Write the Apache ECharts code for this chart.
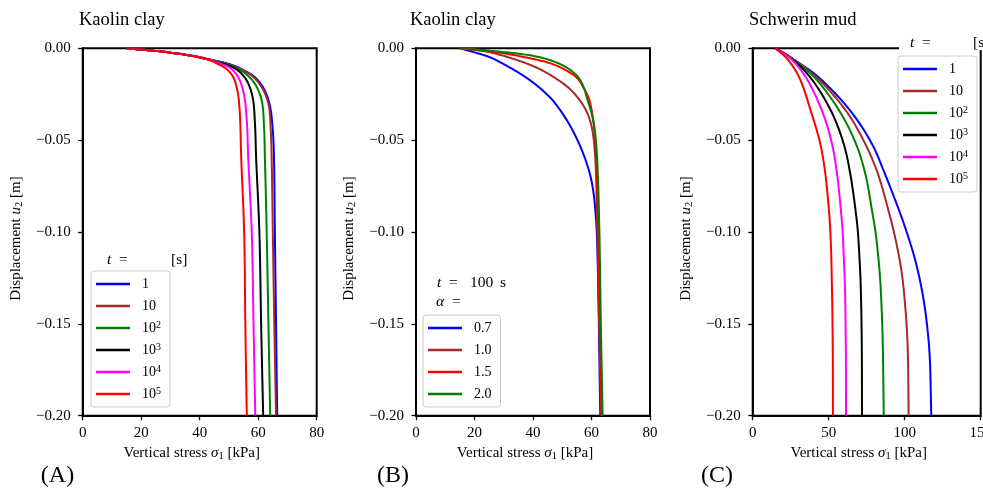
<!DOCTYPE html>
<html>
<head>
<meta charset="utf-8">
<script src="https://cdn.jsdelivr.net/npm/echarts@6/dist/echarts.min.js"></script>
<style>
html,body{margin:0;padding:0;background:#fff;overflow:hidden;}
#chart{width:983px;height:492px;}
</style>
</head>
<body>
<div id="chart"></div>
<script>
// ---------- DATA (pairs: [vertical stress kPa, displacement m]) ----------
// Panel A: Kaolin clay, different times t
const A_t1 = [[15,0],[24.1,-0.0013],[35.6,-0.0036],[42.4,-0.0058],[47.5,-0.0075],[51.5,-0.0093],[54.9,-0.0118],[58.9,-0.0158],[62.0,-0.0222],[64.0,-0.0312],[65.0,-0.0449],[65.4,-0.06],[65.7,-0.1],[66.1,-0.15],[66.5,-0.2]];
const A_t10 = [[15,0],[24.1,-0.0013],[35.6,-0.0036],[42.4,-0.0058],[47.3,-0.0076],[50.8,-0.0093],[53.2,-0.0107],[57.8,-0.0149],[61.2,-0.0212],[63.5,-0.0303],[64.3,-0.0449],[64.6,-0.06],[65.0,-0.1],[65.5,-0.15],[66.1,-0.2]];
const A_t1e2 = [[15,0],[24.1,-0.0013],[35.6,-0.0036],[42.4,-0.0058],[47.0,-0.0077],[51.5,-0.0100],[55.5,-0.0136],[58.9,-0.0194],[61.2,-0.0285],[62.0,-0.0430],[62.3,-0.06],[62.9,-0.1],[63.5,-0.15],[64.1,-0.2]];
const A_t1e3 = [[15,0],[24.1,-0.0013],[35.6,-0.0036],[42.4,-0.0058],[46.5,-0.0078],[49.2,-0.0089],[53.2,-0.0122],[56.1,-0.0176],[58.1,-0.0267],[58.9,-0.0412],[59.3,-0.06],[60.4,-0.1],[61.0,-0.15],[61.7,-0.2]];
const A_t1e4 = [[15,0],[24.1,-0.0013],[35.6,-0.0036],[42.4,-0.0058],[46.9,-0.0082],[50.4,-0.0107],[53.2,-0.0158],[55.1,-0.0249],[56.1,-0.0394],[56.6,-0.06],[57.8,-0.1],[58.4,-0.15],[59.0,-0.2]];
const A_t1e5 = [[15,0],[24.1,-0.0013],[35.6,-0.0036],[42.4,-0.0058],[45.8,-0.0082],[49.2,-0.0113],[51.5,-0.0158],[52.9,-0.0231],[53.7,-0.035],[54.2,-0.06],[55.2,-0.1],[55.6,-0.15],[56.1,-0.2]];

// Panel B: Kaolin clay, t = 100 s, different alpha
const B_a07 = [[15,0],[20,-0.0022],[25.3,-0.0049],[31,-0.0095],[36.7,-0.0149],[41.5,-0.0205],[45.8,-0.0267],[47.6,-0.03],[51.9,-0.04],[55.2,-0.05],[57.8,-0.06],[59.7,-0.07],[60.8,-0.08],[61.4,-0.09],[61.8,-0.1],[62.3,-0.13],[62.6,-0.16],[63.0,-0.2]];
const B_a10 = [[15,0],[25.3,-0.0022],[36.7,-0.0076],[42.5,-0.0115],[48.1,-0.0167],[52.5,-0.022],[56.1,-0.0285],[58.5,-0.035],[60.1,-0.043],[61.2,-0.0575],[62.0,-0.1],[62.6,-0.15],[63.3,-0.2]];
const B_a15 = [[15,0],[25.3,-0.0016],[40.1,-0.0058],[46.5,-0.0085],[51.5,-0.0122],[55.0,-0.016],[57.2,-0.0212],[59.0,-0.027],[60.1,-0.034],[61.2,-0.0484],[61.8,-0.07],[62.3,-0.1],[62.9,-0.15],[63.6,-0.2]];
const B_a20 = [[15,0],[25.3,-0.0013],[42.4,-0.0049],[50.4,-0.0095],[55.0,-0.0149],[57.0,-0.02],[58.4,-0.0267],[60.6,-0.0394],[61.6,-0.0521],[62.2,-0.07],[62.7,-0.1],[63.2,-0.15],[63.8,-0.2]];

// Panel C: Schwerin mud, different times t
const C_u = [0,-0.0031,-0.0068,-0.0158,-0.034,-0.0521,-0.0684,-0.0898,-0.1,-0.1134,-0.125,-0.1372,-0.15,-0.167,-0.2];
const C_t1   = [14.9,21.4,28.3,43.4,64.2,78.5,87.0,97.0,101.3,106.3,109.7,112.5,114.6,116.4,117.5];
const C_t10  = [14.9,21.4,27.9,42.0,61.4,74.1,82.4,89.8,92.9,96.3,98.5,100.0,101.2,102.1,102.6];
const C_t1e2 = [14.9,21.4,27.6,40.6,57.0,68.0,74.1,78.8,80.8,82.6,83.8,84.6,85.2,85.7,86.2];
const C_t1e3 = [14.9,21.4,27.2,37.9,51.5,59.9,64.2,67.9,69.2,70.2,70.9,71.3,71.6,71.8,71.9];
const C_t1e4 = [14.9,21.0,26.5,35.0,45.6,52.2,55.5,58.2,59.2,59.9,60.5,60.9,61.1,61.3,61.4];
const C_t1e5 = [14.9,19.5,23.8,30.6,38.2,44.5,47.8,50.3,51.1,51.7,52.0,52.3,52.5,52.7,52.8];

const tNames = ['1','10','10^2','10^3','10^4','10^5'];
const alphaNames = ['0.7','1.0','1.5','2.0'];
const titles = ['Kaolin clay','Kaolin clay','Schwerin mud'];
const panelLabels = ['(A)','(B)','(C)'];
const xMax = [80,80,150];
const xInterval = [20,20,50];
const yTicks = {min:-0.2, max:0, interval:0.05};

// ---------- STYLE ----------
const FONT = 'Liberation Serif';
const tColors = ['#0000ff','#a52a2a','#008000','#000000','#ff00ff','#ff0000'];
const aColors = ['#0000ff','#a52a2a','#ff0000','#008000'];
const grids = [
  {left:82.7, top:48.3, width:234, height:367.4},
  {left:416, top:48.3, width:234, height:367.4},
  {left:752.7, top:48.3, width:228, height:367.4}
];

const C_curves = [C_t1,C_t10,C_t1e2,C_t1e3,C_t1e4,C_t1e5].map(xs => xs.map((x,i)=>[x,C_u[i]]));
const A_curves = [A_t1,A_t10,A_t1e2,A_t1e3,A_t1e4,A_t1e5];
const B_curves = [B_a07,B_a10,B_a15,B_a20];

const subRich = {
  i:{fontStyle:'italic', fontFamily:FONT, fontSize:15, lineHeight:18},
  r:{fontFamily:FONT, fontSize:15, lineHeight:18},
  sub:{fontFamily:FONT, fontSize:10.5, verticalAlign:'bottom', lineHeight:12}
};

function yFmt(v){ if(Math.abs(v)<1e-9) return '0.00'; return (v<0?'\u2212':'')+Math.abs(v).toFixed(2); }

const xAxes = [], yAxes = [];
for(let k=0;k<3;k++){
  xAxes.push({
    gridIndex:k, type:'value', min:0, max:xMax[k], interval:xInterval[k],
    name:'{r|Vertical stress }{i|\u03c3}{sub|1}{r| [kPa]}', nameLocation:'middle', nameGap:28,
    nameTextStyle:{fontFamily:FONT, fontSize:15, color:'#000', padding:[0,16,0,0], rich:subRich},
    axisLine:{show:true, onZero:false, lineStyle:{color:'#000', width:2}},
    axisTick:{show:true, length:4.5, lineStyle:{color:'#000', width:1.3}},
    axisLabel:{fontFamily:FONT, fontSize:15, color:'#000', margin:10, hideOverlap:false, showMaxLabel:true},
    splitLine:{show:false}
  });
  yAxes.push({
    gridIndex:k, type:'value', min:yTicks.min, max:yTicks.max, interval:yTicks.interval,
    name:'{r|Displacement }{i|u}{sub|2}{r| [m]}', nameLocation:'middle', nameGap:58, nameRotate:90,
    nameTextStyle:{fontFamily:FONT, fontSize:15, color:'#000', padding:[0,13,0,0], rich:subRich},
    axisLine:{show:true, onZero:false, lineStyle:{color:'#000', width:2}},
    axisTick:{show:true, length:4.5, lineStyle:{color:'#000', width:1.3}},
    axisLabel:{fontFamily:FONT, fontSize:15, color:'#000', margin:12, formatter:yFmt},
    splitLine:{show:false}
  });
}

// Smooth rendering of a curve through its data points (centripetal Catmull-Rom in pixel space)
function splinePixels(P){
  const out = [P[0].slice()];
  const n = P.length;
  const dist = (a,b)=>Math.sqrt(Math.hypot(b[0]-a[0], b[1]-a[1]));
  for(let i=0;i<n-1;i++){
    const p0 = P[i-1], p1 = P[i], p2 = P[i+1], p3 = P[i+2];
    const d2 = dist(p1,p2);
    let c1, c2;
    if(!p0){ c1 = [p1[0]+(p2[0]-p1[0])/3, p1[1]+(p2[1]-p1[1])/3]; }
    else {
      const d1 = dist(p0,p1);
      const den = 3*d1*(d1+d2);
      c1 = [0,1].map(k => (d1*d1*p2[k] - d2*d2*p0[k] + (2*d1*d1+3*d1*d2+d2*d2)*p1[k]) / den);
    }
    if(!p3){ c2 = [p2[0]-(p2[0]-p1[0])/3, p2[1]-(p2[1]-p1[1])/3]; }
    else {
      const d3 = dist(p2,p3);
      const den = 3*d3*(d3+d2);
      c2 = [0,1].map(k => (d3*d3*p1[k] - d2*d2*p3[k] + (2*d3*d3+3*d3*d2+d2*d2)*p2[k]) / den);
    }
    const steps = 16;
    for(let s=1;s<=steps;s++){
      const t = s/steps, u = 1-t;
      out.push([0,1].map(k => u*u*u*p1[k] + 3*u*u*t*c1[k] + 3*u*t*t*c2[k] + t*t*t*p2[k]));
    }
  }
  return out;
}

const series = [];
function addSeries(prefix, names, curves, colors, idx){
  names.forEach((n,i)=>{
    const pts = curves[i];
    series.push({
      name:prefix+n, type:'custom', xAxisIndex:idx, yAxisIndex:idx, coordinateSystem:'cartesian2d',
      data:pts, itemStyle:{color:colors[i]}, silent:true, clip:true, animation:false,
      encode:{x:0, y:1},
      renderItem:function(params, api){
        if(params.dataIndex !== 0) return null;
        const P = pts.map(p => api.coord(p));
        return {type:'polyline', shape:{points:splinePixels(P)},
          style:{stroke:colors[i], lineWidth:2, fill:null, lineJoin:'round', lineCap:'butt'}};
      }
    });
  });
}
addSeries('A:', tNames, A_curves, tColors, 0);
addSeries('B:', alphaNames, B_curves, aColors, 1);
addSeries('C:', tNames, C_curves, tColors, 2);

function legendFmt(name){
  const s = name.slice(2);
  return s.replace(/\^(\d+)/, '{sup|$1}');
}
function makeLegend(prefix, names, left, top){
  return {
    data:names.map(n=>prefix+n), orient:'vertical', left:left, top:top,
    icon:'rect', itemWidth:34, itemHeight:2.5, itemGap:6, selectedMode:false,
    padding:[5,5,5,5], backgroundColor:'rgba(255,255,255,0.85)', borderColor:'#cccccc', borderWidth:1, borderRadius:3,
    formatter:legendFmt,
    textStyle:{fontFamily:FONT, fontSize:14, color:'#000', lineHeight:16, padding:[0,4,0,7],
      rich:{sup:{fontFamily:FONT, fontSize:10, verticalAlign:'top', lineHeight:8, color:'#000'}}}
  };
}

function txt(x, y, text, size, italic, align){
  return {type:'text', x:x, y:y, z:101,
    style:{text:text, fontFamily:FONT, fontSize:size, fontStyle:italic?'italic':'normal', fill:'#000',
      align:align||'left', verticalAlign:'middle'}};
}

const graphic = [
  // white cover behind the panel C legend title
  {type:'rect', z:100, shape:{x:899, y:36, width:84, height:14}, style:{fill:'#fff'}},
  // legend titles
  txt(107, 260, 't', 15.5, true), txt(119, 260, '=', 15.5, false), txt(171, 260, '[s]', 15.5, false),
  txt(437, 283, 't', 15.5, true), txt(449, 283, '=', 15.5, false), txt(470, 283, '100', 15.5, false), txt(500, 283, 's', 15.5, false),
  txt(436, 302, '\u03b1', 15.5, true), txt(452, 302, '=', 15.5, false),
  txt(910, 43, 't', 15.5, true), txt(922, 43, '=', 15.5, false), txt(973, 43, '[s]', 15.5, false),
  // panel labels
  txt(57.5, 476, panelLabels[0], 24, false, 'center'),
  txt(393, 476, panelLabels[1], 24, false, 'center'),
  txt(717, 476, panelLabels[2], 24, false, 'center')
];

const option = {
  animation:false,
  backgroundColor:'#fff',
  title:[
    {text:titles[0], left:79, top:10, padding:0, textStyle:{fontFamily:FONT, fontSize:18.5, fontWeight:'normal', color:'#000', lineHeight:20}},
    {text:titles[1], left:410, top:10, padding:0, textStyle:{fontFamily:FONT, fontSize:18.5, fontWeight:'normal', color:'#000', lineHeight:20}},
    {text:titles[2], left:749, top:10, padding:0, textStyle:{fontFamily:FONT, fontSize:18.5, fontWeight:'normal', color:'#000', lineHeight:20}}
  ],
  grid:grids.map(g=>Object.assign({show:true, borderColor:'#000', borderWidth:2, backgroundColor:'transparent', containLabel:false, outerBoundsMode:'none'}, g)),
  xAxis:xAxes, yAxis:yAxes, series:series,
  legend:[
    makeLegend('A:', tNames, 91, 271),
    makeLegend('B:', alphaNames, 423, 315),
    makeLegend('C:', tNames, 898, 56)
  ],
  graphic:graphic
};

const chart = echarts.init(document.getElementById('chart'), null, {renderer:'canvas'});
chart.setOption(option);
</script>
</body>
</html>
